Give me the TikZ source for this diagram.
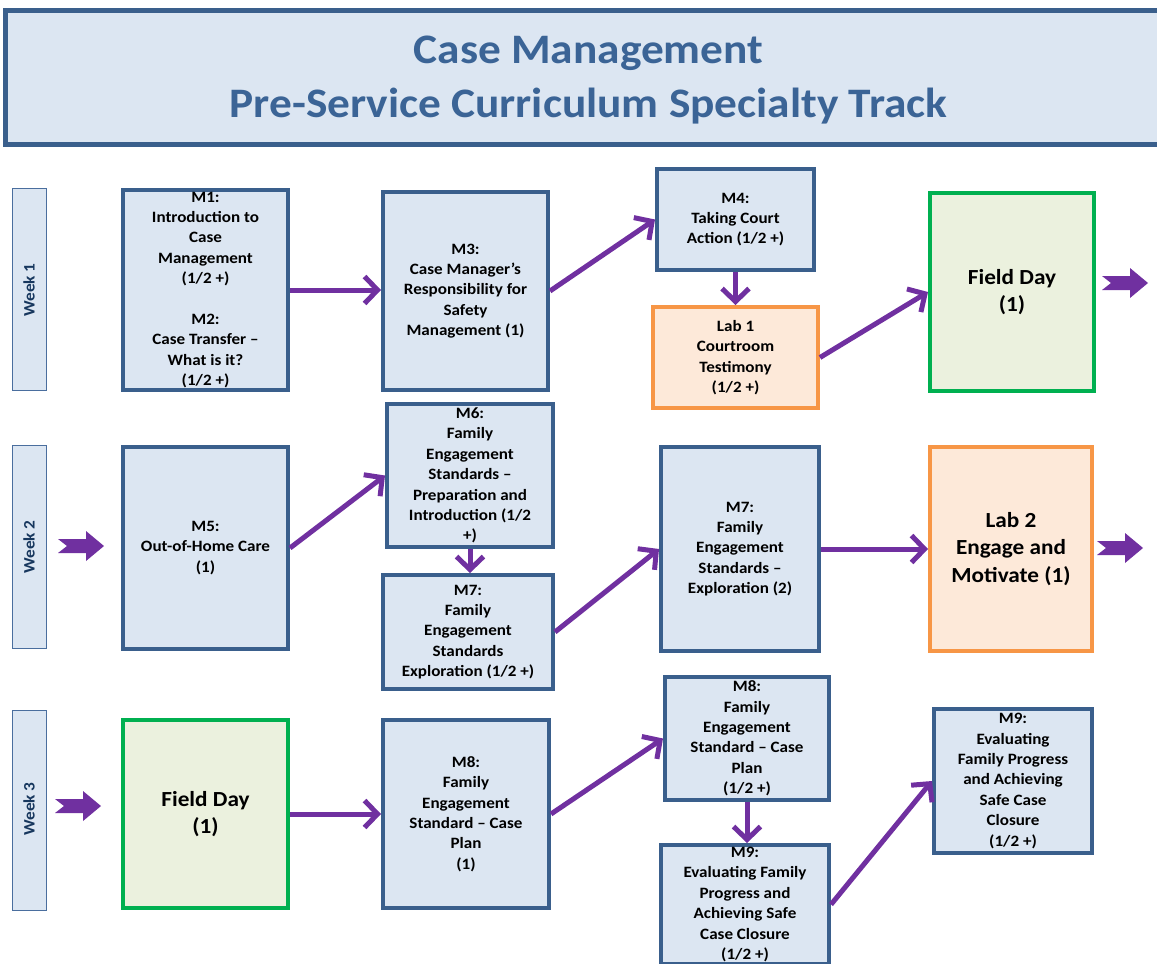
\documentclass[tikz,border=0pt]{standalone}
\usepackage{fontspec}
\setmainfont{Carlito}[FakeStretch=1.08]
\usetikzlibrary{arrows.meta}
\definecolor{bluebd}{HTML}{3A5F8C}
\definecolor{bluefill}{HTML}{DCE6F2}
\definecolor{orangebd}{HTML}{F79646}
\definecolor{orangefill}{HTML}{FDE9D9}
\definecolor{greenbd}{HTML}{00B050}
\definecolor{greenfill}{HTML}{EBF1DE}
\definecolor{purp}{HTML}{7030A0}
\definecolor{titleblue}{HTML}{3B6496}
\definecolor{weekbd}{HTML}{4A6E9E}
\definecolor{navy}{HTML}{17375E}
\newcommand{\blockarr}[2]{\fill[purp] (#1,#2) ++(0,-7) -- ++(28,0) -- ++(0,-8) -- ++(18,15) -- ++(-18,15) -- ++(0,-8) -- ++(-28,0) -- ++(9,-7) -- cycle;}
\begin{document}
\begin{tikzpicture}[x=1pt,y=-1pt,
  mbox/.style={draw=bluebd, fill=bluefill, line width=4pt, inner sep=0pt, rectangle},
  labbox/.style={draw=orangebd, fill=orangefill, line width=4pt, inner sep=0pt, rectangle},
  fieldbox/.style={draw=greenbd, fill=greenfill, line width=4pt, inner sep=0pt, rectangle},
  txt/.style={align=center, font=\bfseries\fontsize{15.8}{20.4}\selectfont, inner sep=0pt, text=black},
  bigtxt/.style={align=center, font=\bfseries\fontsize{21.5}{27.5}\selectfont, inner sep=0pt, text=black},
  flow/.style={draw=purp, line width=5pt, -{Straight Barb[length=13pt,width=27pt]}},
  weekbox/.style={draw=weekbd, fill=bluefill, line width=1pt, inner sep=0pt, rectangle},
  weektxt/.style={rotate=90, font=\bfseries\fontsize{16}{19}\selectfont, text=navy, inner sep=0pt}
]
\useasboundingbox (0,0) rectangle (1157,964);

% title
\node[draw=bluebd, fill=bluefill, line width=5pt, minimum width=1165pt, minimum height=134pt, inner sep=0pt] (title) at (587.5,77) {};
\node[align=center, font=\bfseries\fontsize{42}{54}\selectfont, text=titleblue, inner sep=0pt] (titletxt) at (588.5,80) {Case Management\\Pre-Service Curriculum Specialty Track};

% week labels
\node[weekbox, minimum width=34pt, minimum height=202pt] (w1) at (29,289) {};
\node[weektxt] (w1t) at (29,290) {Week 1};
\node[weekbox, minimum width=34pt, minimum height=203pt] (w2) at (29,546.5) {};
\node[weektxt] (w2t) at (29,547) {Week 2};
\node[weekbox, minimum width=34pt, minimum height=200pt] (w3) at (29,810) {};
\node[weektxt] (w3t) at (29,809) {Week 3};

% week 1
\node[mbox, minimum width=165pt, minimum height=200pt, label={[txt]center:{M1:\\Introduction to\\Case\\Management\\(1/2 +)\\[20.4pt]M2:\\Case Transfer –\\What is it?\\(1/2 +)}}] (m12) at (205.5,290) {};
\node[mbox, minimum width=165pt, minimum height=198pt, label={[txt]center:{M3:\\Case Manager’s\\Responsibility for\\Safety\\Management (1)}}] (m3) at (465.5,291) {};
\node[mbox, minimum width=157pt, minimum height=101pt, label={[txt]center:{M4:\\Taking Court\\Action (1/2 +)}}] (m4) at (735.5,219.5) {};
\node[labbox, minimum width=165pt, minimum height=101pt, label={[txt]center:{Lab 1\\Courtroom\\Testimony\\(1/2 +)}}] (lab1) at (735.5,357.5) {};
\node[fieldbox, minimum width=164pt, minimum height=198pt, label={[bigtxt]center:{Field Day\\(1)}}] (fd1) at (1012,292) {};

% week 2
\node[mbox, minimum width=165pt, minimum height=202pt, label={[txt]center:{M5:\\Out-of-Home Care\\(1)}}] (m5) at (205.5,548) {};
\node[mbox, minimum width=166pt, minimum height=143pt, label={[txt]center:{M6:\\Family\\Engagement\\Standards –\\Preparation and\\Introduction (1/2\\+)}}] (m6) at (470,475.5) {};
\node[mbox, minimum width=170pt, minimum height=114pt, label={[txt]center:{M7:\\Family\\Engagement\\Standards\\Exploration (1/2 +)}}] (m7a) at (468,632) {};
\node[mbox, minimum width=158pt, minimum height=204pt, label={[txt]center:{M7:\\Family\\Engagement\\Standards –\\Exploration (2)}}] (m7b) at (740,549) {};
\node[labbox, minimum width=162pt, minimum height=204pt, label={[bigtxt]center:{Lab 2\\Engage and\\Motivate (1)}}] (lab2) at (1011,549) {};

% week 3
\node[fieldbox, minimum width=165pt, minimum height=188pt, label={[bigtxt]center:{Field Day\\(1)}}] (fd3) at (205.5,814) {};
\node[mbox, minimum width=166pt, minimum height=188pt, label={[txt]center:{M8:\\Family\\Engagement\\Standard – Case\\Plan\\(1)}}] (m8a) at (466,814) {};
\node[mbox, minimum width=164pt, minimum height=123pt, label={[txt]center:{M8:\\Family\\Engagement\\Standard – Case\\Plan\\(1/2 +)}}] (m8b) at (747,738.5) {};
\node[mbox, minimum width=168pt, minimum height=119pt, label={[txt]center:{M9:\\Evaluating Family\\Progress and\\Achieving Safe\\Case Closure\\(1/2 +)}}] (m9a) at (745,904.5) {};
\node[mbox, minimum width=158pt, minimum height=144pt, label={[txt]center:{M9:\\Evaluating\\Family Progress\\and Achieving\\Safe Case\\Closure\\(1/2 +)}}] (m9b) at (1013,781) {};

% connectors
\draw[flow] (m12.east) -- (m12.east -| m3.west);
\draw[flow] (m3.east) -- (m4.west);
\draw[flow] (m4.south) -- (lab1.north);
\draw[flow] (lab1.east) -- (fd1.west);
\draw[flow] (m5.east) -- (m6.west);
\draw[flow] (m6.south) -- (m6.south |- m7a.north);
\draw[flow] (m7a.east) -- (m7b.west);
\draw[flow] (m7b.east) -- (lab2.west);
\draw[flow] (fd3.east) -- (m8a.west);
\draw[flow] (m8a.east) -- (m8b.west);
\draw[flow] (m8b.south) -- (m8b.south |- m9a.north);
\draw[flow] (m9a.east) -- (m9b.west);

% block arrows
\blockarr{1102}{283}
\blockarr{1097}{548}
\blockarr{58}{546}
\blockarr{55}{806}
\end{tikzpicture}
\end{document}
